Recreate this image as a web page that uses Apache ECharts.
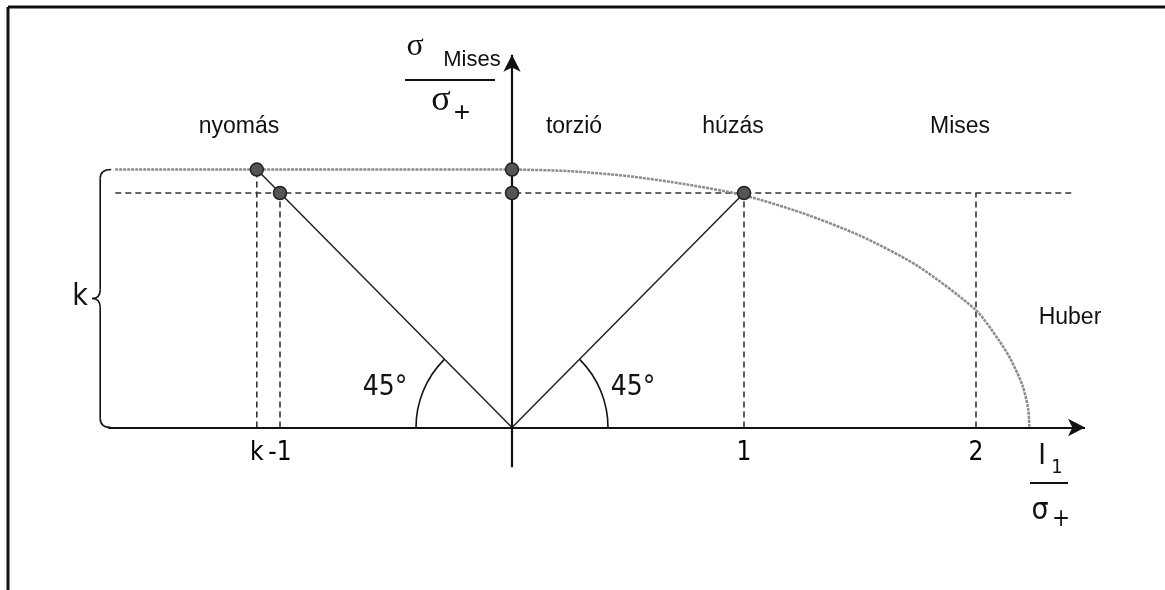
<!DOCTYPE html>
<html>
<head>
<meta charset="utf-8">
<script src="https://cdn.jsdelivr.net/npm/echarts@6/dist/echarts.min.js"></script>
<style>
html,body{margin:0;padding:0;background:#fff;}
#chart{width:1165px;height:590px;}
</style>
</head>
<body>
<div id="chart"></div>
<script>
// ---- data (in chart units: I1/sigma+ on x, sigma_Mises/sigma+ on y) ----
const kValue = 1.1;
const tickValues = [-1.1, -1, 1, 2];
const tickLabels = ['k', '-1', '1', '2'];
const pointX = [-1.1, -1, 0, 0, 1];
const pointY = [1.1, 1, 1.1, 1, 1];
const curveX = [-1.71, 0, 0.25, 0.5, 0.75, 1.0, 1.25, 1.5, 1.75, 2.0, 2.1, 2.15, 2.2, 2.225, 2.23];
const curveY = [1.1, 1.1, 1.093, 1.072, 1.037, 0.99, 0.915, 0.818, 0.688, 0.5, 0.37, 0.29, 0.18, 0.08, 0];
const guideX = [-1.1, -1, 1, 2];
const guideTop = [1.1, 1, 1, 1];
const guideHLevel = 1;
const guideHFrom = -1.71;
const guideHTo = 2.42;
const diagEndX = [-1.1, 1];
const diagEndY = [1.1, 1];
const xAxisFrom = -1.74, xAxisTo = 2.47;
const yAxisFrom = -0.17, yAxisTo = 1.59;
const regionLabels = ['nyomás', 'torzió', 'húzás', 'Mises', 'Huber'];

const NARROW = "'Liberation Sans Narrow','DejaVu Sans Condensed','Open Sans',sans-serif";
const ARIAL = "'Liberation Sans',Arial,sans-serif";
const SERIF = "'Liberation Serif','DejaVu Serif',serif";

const chart = echarts.init(document.getElementById('chart'), null, {renderer: 'canvas'});

const series = [];

// Mises / Huber curve
series.push({
  type: 'line', data: curveX.map((x, i) => [x, curveY[i]]),
  symbol: 'none', smooth: 0.25, z: 3,
  lineStyle: {color: '#8c8c8c', width: 2.5, type: [3, 1]}
});

// horizontal dashed guide
series.push({
  type: 'line', data: [[guideHFrom, guideHLevel], [guideHTo, guideHLevel]],
  symbol: 'none', z: 2,
  lineStyle: {color: '#333', width: 1.6, type: [6, 4]}
});
// vertical dashed guides
guideX.forEach((x, i) => {
  series.push({
    type: 'line', data: [[x, 0], [x, guideTop[i]]],
    symbol: 'none', z: 2,
    lineStyle: {color: '#333', width: 1.6, type: [6, 4]}
  });
});
// 45 degree lines
diagEndX.forEach((x, i) => {
  series.push({
    type: 'line', data: [[0, 0], [x, diagEndY[i]]],
    symbol: 'none', z: 4,
    lineStyle: {color: '#222', width: 1.5}
  });
});
// axes with arrows
series.push({
  type: 'line', data: [], z: 5,
  markLine: {
    silent: true, animation: false,
    symbol: ['none', 'arrow'], symbolSize: [13, 17],
    label: {show: false},
    lineStyle: {type: 'solid', color: '#111', width: 2.2},
    data: [
      [{coord: [xAxisFrom, 0]}, {coord: [xAxisTo, 0]}],
      [{coord: [0, yAxisFrom]}, {coord: [0, yAxisTo]}]
    ]
  }
});
// points
series.push({
  type: 'scatter', data: pointX.map((x, i) => [x, pointY[i]]),
  symbolSize: 13, z: 10,
  itemStyle: {color: '#555', borderColor: '#222', borderWidth: 1.5, opacity: 1}
});
// tick labels
series.push({
  type: 'scatter', data: tickValues.map((v, i) => ({value: [v, 0], name: tickLabels[i]})),
  symbolSize: 0, z: 10,
  itemStyle: {opacity: 1},
  label: {
    show: true, position: 'bottom', distance: 13,
    formatter: p => p.name,
    fontFamily: NARROW, fontSize: 26, color: '#000', opacity: 1
  }
});
// arcs (45°) and brace
series.push({
  type: 'custom', coordinateSystem: 'cartesian2d', data: [[0, 0]], clip: false, z: 6,
  renderItem: function (params, api) {
    const o = api.coord([0, 0]);
    const r = 96;
    const xb = api.coord([-1.775, 0])[0];
    const yTop = api.coord([0, kValue])[1];
    const yBot = o[1];
    const yMid = (yTop + yBot) / 2;
    const st = {stroke: '#111', lineWidth: 1.6, fill: null};
    return {
      type: 'group',
      children: [
        {type: 'arc', shape: {cx: o[0], cy: o[1], r: r, startAngle: -Math.PI / 4, endAngle: 0, clockwise: true}, style: st},
        {type: 'arc', shape: {cx: o[0], cy: o[1], r: r, startAngle: Math.PI, endAngle: Math.PI * 1.25, clockwise: true}, style: st},
        {type: 'bezierCurve', shape: {x1: xb + 11, y1: yTop, x2: xb, y2: yTop + 9, cpx1: xb, cpy1: yTop}, style: st},
        {type: 'line', shape: {x1: xb, y1: yTop + 9, x2: xb, y2: yMid - 9}, style: st},
        {type: 'bezierCurve', shape: {x1: xb, y1: yMid - 9, x2: xb - 8, y2: yMid, cpx1: xb, cpy1: yMid}, style: st},
        {type: 'bezierCurve', shape: {x1: xb - 8, y1: yMid, x2: xb, y2: yMid + 9, cpx1: xb, cpy1: yMid}, style: st},
        {type: 'line', shape: {x1: xb, y1: yMid + 9, x2: xb, y2: yBot - 9}, style: st},
        {type: 'bezierCurve', shape: {x1: xb, y1: yBot - 9, x2: xb + 11, y2: yBot, cpx1: xb, cpy1: yBot}, style: st}
      ]
    };
  }
});

function txt(text, x, y, size, family, extra) {
  return Object.assign({
    type: 'text', x: x, y: y, z: 20,
    style: {text: text, fontSize: size, fontFamily: family, fill: '#111', align: 'center', verticalAlign: 'middle'}
  }, extra || {});
}
function ln(x1, y1, x2, y2, w) {
  return {type: 'line', z: 20, shape: {x1, y1, x2, y2}, style: {stroke: '#111', lineWidth: w}};
}

chart.setOption({
  animation: false,
  backgroundColor: '#fff',
  grid: {left: 48, right: 73, top: 5.4, bottom: 21.8, containLabel: false},
  xAxis: {type: 'value', min: -2, max: 2.5, show: false},
  yAxis: {type: 'value', min: -0.6, max: 1.8, show: false},
  series: series,
  graphic: [
    // frame edges
    ln(8, 7, 8, 590, 3),
    ln(8, 7, 1165, 7, 3),
    // region labels
    txt(regionLabels[0], 239, 127, 23, ARIAL),
    txt(regionLabels[1], 574, 127, 23, ARIAL),
    txt(regionLabels[2], 733, 127, 23, ARIAL),
    txt(regionLabels[3], 960, 127, 23, ARIAL),
    txt(regionLabels[4], 1070, 318, 23, ARIAL),
    // y axis name
    txt('σ', 415, 47, 32, SERIF),
    txt('Mises', 472, 60, 22, ARIAL),
    ln(405, 80, 495, 80, 2),
    txt('σ', 441, 101, 36, SERIF),
    txt('+', 462, 113, 28, ARIAL),
    // x axis name
    txt('I', 1042, 456, 29, NARROW),
    txt('1', 1057, 468, 20, NARROW),
    ln(1030, 483, 1068, 483, 2),
    txt('σ', 1040, 511, 30, NARROW),
    txt('+', 1061, 520, 24, NARROW),
    // angle labels
    txt('45°', 385, 388, 28, NARROW),
    txt('45°', 633, 388, 28, NARROW),
    // brace label
    txt('k', 80, 297, 30, NARROW)
  ]
});
</script>
</body>
</html>
